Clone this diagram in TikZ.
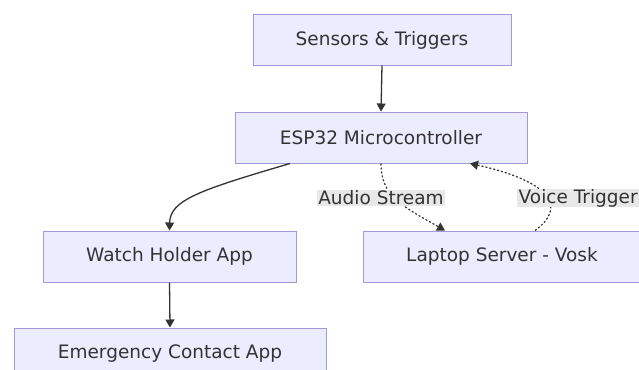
\documentclass[tikz,border=0pt]{standalone}
\usepackage{fontspec}
\setmainfont{DejaVu Sans}
\usetikzlibrary{arrows.meta}
\definecolor{boxfill}{HTML}{ECECFF}
\definecolor{boxline}{HTML}{A596DA}
\definecolor{txt}{HTML}{333333}
\definecolor{lblbg}{HTML}{E8E8E8}
\tikzset{
  box/.style={draw=boxline, fill=boxfill, line width=1pt, text=txt, font=\fontsize{18.5}{22}\selectfont, inner sep=0pt},
  arr/.style={draw=txt, line width=1.3pt, -{Triangle[length=8pt,width=9pt]}},
  dotarr/.style={draw=txt, line width=1.2pt, dash pattern=on 2pt off 2pt, -{Triangle[length=8pt,width=9pt]}},
  lbl/.style={fill=lblbg, text=txt, font=\fontsize{18.5}{22}\selectfont, inner xsep=1.5pt, inner ysep=0.5pt}
}
\begin{document}
\begin{tikzpicture}[x=1pt,y=-1pt]
\useasboundingbox (0,0) rectangle (639,369);
\clip (0,0) rectangle (639,369);
\fill[white] (0,0) rectangle (639,369);
\node[box, minimum width=258pt, minimum height=50pt] (sens) at (382,40) {Sensors \& Triggers};
\node[box, minimum width=292pt, minimum height=51pt] (esp) at (381,137.5) {ESP32 Microcontroller};
\node[box, minimum width=253pt, minimum height=51pt] (watch) at (169.5,256.5) {Watch Holder App};
\node[box, minimum width=312pt, minimum height=51pt] (emerg) at (170,353.5) {Emergency Contact App};
\node[box, minimum width=278pt, minimum height=51pt] (lap) at (502,256.5) {Laptop Server - Vosk};
\coordinate (espA) at ([xshift=-91pt]esp.south);
\coordinate (espV) at ([xshift=89pt]esp.south);
\coordinate (lapA) at ([xshift=-57pt]lap.north);
\coordinate (lapV) at ([xshift=33pt]lap.north);
\draw[arr] (sens.south) -- (esp.north);
\draw[arr] (espA) .. controls (200,190) and (170,200) .. (watch.north);
\draw[arr] (watch.south) -- (emerg.north);
\draw[dotarr] (esp.south) .. controls (381,195) and (400,205) .. (lapA);
\draw[dotarr] (lapV) .. controls (570,205) and (545,180) .. (espV);
\node[lbl] (la) at (381,198) {Audio Stream};
\node[lbl, anchor=west] (lv) at (517,198) {Voice Trigger};
\end{tikzpicture}
\end{document}
